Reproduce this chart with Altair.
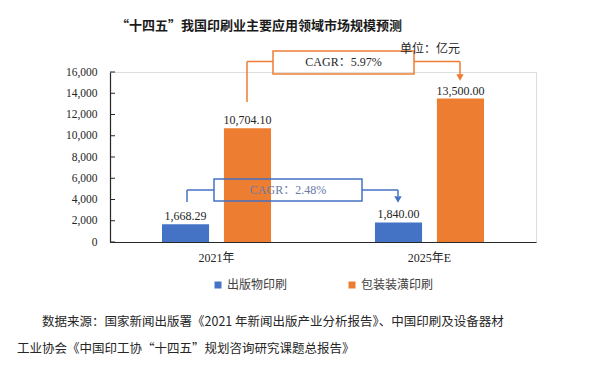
import altair as alt
import pandas as pd

# ---- data ----
categories = ["2021年", "2025年E"]
series_names = ["出版物印刷", "包装装潢印刷"]
publishing_values = [1668.29, 1840.00]
packaging_values = [10704.10, 13500.00]
series_colors = ["#4472C4", "#ED7D31"]
y_tick_values = [0, 2000, 4000, 6000, 8000, 10000, 12000, 14000, 16000]
cagr_texts = ["CAGR：5.97%", "CAGR：2.48%"]
title_text = "“十四五”我国印刷业主要应用领域市场规模预测"
unit_text = "单位：亿元"
source_line1 = "数据来源：国家新闻出版署《2021 年新闻出版产业分析报告》、中国印刷及设备器材"
source_line2 = "工业协会《中国印工协“十四五”规划咨询研究课题总报告》"

rows = []
for i, c in enumerate(categories):
    rows.append({"cat": c, "series": series_names[0], "value": publishing_values[i]})
    rows.append({"cat": c, "series": series_names[1], "value": packaging_values[i]})
df = pd.DataFrame(rows)

SERIF = "Liberation Serif, Noto Sans CJK SC"
SANS = "Noto Sans CJK SC"
W, H = 426, 170

x_axis = alt.Axis(labelAngle=0, labelFont=SERIF, labelFontSize=12,
                  labelColor="#262626", ticks=False, labelPadding=10,
                  domainColor="#262626", domainWidth=1.2)
y_axis = alt.Axis(values=y_tick_values, format=",.0f", grid=False, ticks=False,
                  labelOverlap=False, labelFont=SERIF, labelFontSize=11.5,
                  labelColor="#262626", labelPadding=13,
                  domainColor="#262626", domainWidth=1.2)
x_scale = alt.Scale(paddingInner=0.488, paddingOuter=0.244)
xo_scale = alt.Scale(paddingInner=0.24, paddingOuter=0)
y_scale = alt.Scale(domain=[0, 16000], nice=False)

x_enc = alt.X("cat:N", sort=categories, title=None, scale=x_scale, axis=x_axis)
xo_enc = alt.XOffset("series:N", sort=series_names, scale=xo_scale)
y_enc = alt.Y("value:Q", title=None, scale=y_scale, axis=y_axis)

bars = alt.Chart(df).mark_bar().encode(
    x=x_enc, xOffset=xo_enc, y=y_enc,
    color=alt.Color("series:N", sort=series_names,
                    scale=alt.Scale(domain=series_names, range=series_colors),
                    legend=alt.Legend(orient="none", legendX=102, legendY=207,
                                      direction="horizontal", title=None,
                                      symbolType="square", symbolSize=49,
                                      symbolStrokeWidth=0, labelFont=SANS,
                                      labelFontSize=12, labelColor="#404040",
                                      labelOffset=3, columnPadding=58, padding=0)),
)

labels = alt.Chart(df).mark_text(font=SERIF, fontSize=12, color="#262626",
                                 baseline="middle", dy=-8).encode(
    x=x_enc, xOffset=xo_enc, y=y_enc,
    text=alt.Text("value:Q", format=",.2f"),
)

ticks_df = pd.DataFrame({"value": y_tick_values})
inner_ticks = alt.Chart(ticks_df).mark_rule(color="#262626", strokeWidth=1).encode(
    y=y_enc, x=alt.value(0), x2=alt.value(5),
)

one = pd.DataFrame({"a": [0]})
ORANGE, BLUE = series_colors[1], series_colors[0]


def rule(x, y, x2=None, y2=None, color="#000"):
    enc = {"x": alt.value(x), "y": alt.value(y)}
    if x2 is not None:
        enc["x2"] = alt.value(x2)
    if y2 is not None:
        enc["y2"] = alt.value(y2)
    return alt.Chart(one).mark_rule(color=color, strokeWidth=1.5).encode(**enc)


def box(x, x2, y, y2, color):
    return alt.Chart(one).mark_rect(fillOpacity=0, stroke=color, strokeWidth=1.5).encode(
        x=alt.value(x), x2=alt.value(x2), y=alt.value(y), y2=alt.value(y2))


def arrow(x, y, color):
    return alt.Chart(one).mark_point(shape="triangle-down", filled=True, size=55,
                                     color=color, opacity=1).encode(
        x=alt.value(x), y=alt.value(y))


def txt(s, x, y, size, font, color="#262626", align="center", weight="normal"):
    return alt.Chart(one).mark_text(text=s, font=font, fontSize=size, color=color,
                                    align=align, baseline="middle",
                                    fontWeight=weight).encode(
        x=alt.value(x), y=alt.value(y))


annotations = [
    # orange CAGR
    rule(137, 30, y2=-10.5, color=ORANGE),
    rule(137, -10.5, x2=163, color=ORANGE),
    box(163, 304, -21, 2, ORANGE),
    rule(304, -10.5, x2=350, color=ORANGE),
    rule(350, -10.5, y2=3, color=ORANGE),
    arrow(350, 5.5, ORANGE),
    txt(cagr_texts[0], 233.5, -10, 12, SERIF, color="#262626"),
    # blue CAGR
    rule(77, 130, y2=118, color=BLUE),
    rule(77, 118, x2=104, color=BLUE),
    box(104, 252, 107, 129, BLUE),
    rule(252, 118, x2=288, color=BLUE),
    rule(288, 118, y2=124, color=BLUE),
    arrow(288, 127.5, BLUE),
    txt(cagr_texts[1], 178, 118, 12, SERIF, color="#6a7aa6"),
    # titles & notes
    txt(title_text, 149, -46, 13, SANS, color="#1a1a1a", weight="bold"),
    txt(unit_text, 290, -23, 12, SANS, color="#262626", align="left"),
    txt(source_line1, -68, 250, 12.5, SANS, color="#262626", align="left"),
    txt(source_line2, -93, 277, 12.5, SANS, color="#262626", align="left"),
]

chart = alt.layer(bars, labels, inner_ticks, *annotations).properties(
    width=W, height=H,
    autosize=alt.AutoSizeParams(type="none"),
    padding={"left": 102, "top": 64, "right": 70, "bottom": 118},
).configure_view(stroke=None).configure(background="white")

chart.save("out.html", embed_options={"renderer": "svg", "actions": False})
